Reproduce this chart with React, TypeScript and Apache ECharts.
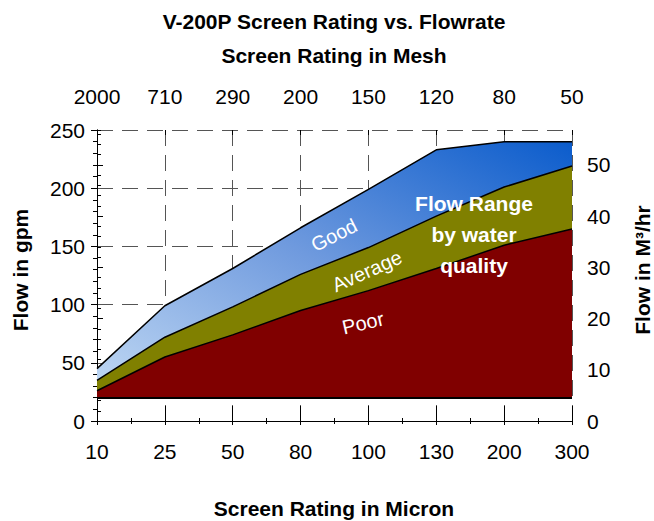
import React, { useEffect, useRef } from "react";
import * as echarts from "echarts";

const microns = ["10", "25", "50", "80", "100", "130", "200", "300"];
const mesh = ["2000", "710", "290", "200", "150", "120", "80", "50"];
const poorTop = [26, 55, 74, 95, 112, 131, 151, 165];
const averageTop = [35, 72, 98, 126, 149, 176, 201, 219];
const goodTop = [45, 99, 131, 166, 199, 233, 240, 240];
const baseFlow = 20;
const gpmPerM3hr = 4.4029;
const gpmMax = 250;

const FONT = "Liberation Sans, Arial, sans-serif";

export default function App() {
  const ref = useRef<HTMLDivElement>(null);
  useEffect(() => {
    if (!ref.current) return;
    const chart = echarts.init(ref.current, undefined, { renderer: "svg" });
    const toPts = (arr: number[]) => arr.map((v, i) => [i, v]);
    const lastIdx = microns.length - 1;
    const xCommon = {
      type: "value" as const,
      min: 0,
      max: lastIdx,
      interval: 1,
    };
    const lineStyle = { color: "#000", width: 1.5 };
    const option: any = {
      animation: false,
      textStyle: { fontFamily: FONT },
      grid: { left: 97, right: 82, top: 130, bottom: 100, containLabel: false },
      xAxis: [
        {
          ...xCommon,
          position: "bottom",
          axisLine: { show: true, lineStyle: { color: "#000", width: 1 } },
          axisTick: { show: true, inside: false, length: 4, lineStyle: { color: "#000" } },
          minorTick: { show: true, splitNumber: 2, length: 3, lineStyle: { color: "#000" } },
          axisLabel: {
            margin: 20,
            fontSize: 21,
            color: "#000",
            fontFamily: FONT,
            formatter: (v: number) => microns[Math.round(v)] ?? "",
          },
          splitLine: { show: true, lineStyle: { color: "#555", type: [16, 9], width: 1 } },
        },
        {
          ...xCommon,
          position: "bottom",
          axisLine: { show: false },
          axisTick: { show: true, inside: true, length: 15, lineStyle: { color: "#000" } },
          axisLabel: { show: false },
          splitLine: { show: false },
        },
        {
          ...xCommon,
          position: "top",
          axisLine: { show: true, lineStyle: { color: "#000", width: 1 } },
          axisTick: { show: true, inside: false, length: 5, lineStyle: { color: "#000" } },
          minorTick: { show: true, splitNumber: 2, length: 3, lineStyle: { color: "#000" } },
          axisLabel: {
            margin: 23,
            fontSize: 21,
            color: "#000",
            fontFamily: FONT,
            formatter: (v: number) => mesh[Math.round(v)] ?? "",
          },
          splitLine: { show: false },
        },
        {
          ...xCommon,
          position: "top",
          axisLine: { show: false },
          axisTick: { show: true, inside: true, length: 5, lineStyle: { color: "#000" } },
          axisLabel: { show: false },
          splitLine: { show: false },
        },
      ],
      yAxis: [
        {
          type: "value",
          position: "left",
          min: 0,
          max: gpmMax,
          interval: 50,
          axisLine: { show: true, lineStyle: { color: "#000", width: 1 } },
          axisTick: { show: true, inside: false, length: 6, lineStyle: { color: "#000" } },
          minorTick: { show: true, splitNumber: 5, length: 4, lineStyle: { color: "#000" } },
          axisLabel: { margin: 12, fontSize: 21, color: "#000", fontFamily: FONT },
          splitLine: { show: true, lineStyle: { color: "#555", type: [16, 9], width: 1 } },
        },
        {
          type: "value",
          position: "right",
          min: 0,
          max: gpmMax / gpmPerM3hr,
          interval: 10,
          axisLine: { show: true, lineStyle: { color: "#000", width: 1 } },
          axisTick: { show: true, inside: false, length: 6, lineStyle: { color: "#000" } },
          axisLabel: {
            margin: 15,
            fontSize: 21,
            color: "#000",
            fontFamily: FONT,
            showMaxLabel: false,
            formatter: (v: number) => (Math.abs(v % 10) < 1e-6 ? String(v) : ""),
          },
          splitLine: { show: false },
        },
        {
          type: "value",
          position: "right",
          min: 0,
          max: gpmMax / gpmPerM3hr,
          interval: 2,
          axisLine: { show: false },
          axisTick: { show: true, inside: false, length: 4, lineStyle: { color: "#000" } },
          axisLabel: { show: false },
          splitLine: { show: false },
        },
      ],
      series: [
        {
          name: "Good",
          type: "line",
          xAxisIndex: 0,
          yAxisIndex: 0,
          data: toPts(goodTop),
          symbol: "none",
          lineStyle,
          areaStyle: {
            origin: baseFlow,
            opacity: 1,
            color: new echarts.graphic.LinearGradient(0, 1, 1, 0, [
              { offset: 0, color: "#c2daf4" },
              { offset: 0.5, color: "#6f9ade" },
              { offset: 1, color: "#0b5ccc" },
            ]),
          },
          z: 2,
        },
        {
          name: "Average",
          type: "line",
          xAxisIndex: 0,
          yAxisIndex: 0,
          data: toPts(averageTop),
          symbol: "none",
          lineStyle,
          areaStyle: { origin: baseFlow, opacity: 1, color: "#808000" },
          z: 3,
        },
        {
          name: "Poor",
          type: "line",
          xAxisIndex: 0,
          yAxisIndex: 0,
          data: toPts(poorTop),
          symbol: "none",
          lineStyle,
          areaStyle: { origin: baseFlow, opacity: 1, color: "#800000" },
          z: 4,
          markLine: {
            silent: true,
            symbol: "none",
            label: { show: false },
            lineStyle: { color: "#000", type: "solid", width: 2 },
            data: [{ yAxis: baseFlow }],
          },
        },
      ],
      graphic: [
        {
          type: "text",
          x: 334,
          y: 21,
          style: { text: "V-200P Screen Rating vs. Flowrate", font: `bold 21px ${FONT}`, fill: "#000", align: "center", verticalAlign: "middle" },
        },
        {
          type: "text",
          x: 334,
          y: 55,
          style: { text: "Screen Rating in Mesh", font: `bold 21px ${FONT}`, fill: "#000", align: "center", verticalAlign: "middle" },
        },
        {
          type: "text",
          x: 334,
          y: 508,
          style: { text: "Screen Rating in Micron", font: `bold 21px ${FONT}`, fill: "#000", align: "center", verticalAlign: "middle" },
        },
        {
          type: "text",
          x: 20,
          y: 270,
          rotation: Math.PI / 2,
          style: { text: "Flow in gpm", font: `bold 21px ${FONT}`, fill: "#000", align: "center", verticalAlign: "middle" },
        },
        {
          type: "text",
          x: 642,
          y: 270,
          rotation: Math.PI / 2,
          style: { text: "Flow in M³/hr", font: `bold 21px ${FONT}`, fill: "#000", align: "center", verticalAlign: "middle" },
        },
        {
          type: "text",
          x: 334,
          y: 235,
          rotation: (27 * Math.PI) / 180,
          z: 100,
          style: { text: "Good", font: `20px ${FONT}`, fill: "#fff", align: "center", verticalAlign: "middle" },
        },
        {
          type: "text",
          x: 367,
          y: 271,
          rotation: (24 * Math.PI) / 180,
          z: 100,
          style: { text: "Average", font: `20px ${FONT}`, fill: "#fff", align: "center", verticalAlign: "middle" },
        },
        {
          type: "text",
          x: 363,
          y: 323,
          rotation: (13 * Math.PI) / 180,
          z: 100,
          style: { text: "Poor", font: `20px ${FONT}`, fill: "#fff", align: "center", verticalAlign: "middle" },
        },
        {
          type: "text",
          x: 474,
          y: 234,
          z: 100,
          style: {
            text: "Flow Range\nby water\nquality",
            font: `bold 21px ${FONT}`,
            lineHeight: 31,
            fill: "#fff",
            align: "center",
            verticalAlign: "middle",
          },
        },
      ],
    };
    chart.setOption(option);
    return () => chart.dispose();
  }, []);
  return (
    <div
      ref={ref}
      style={{ position: "absolute", left: 0, top: 0, width: 654, height: 521 }}
    />
  );
}
